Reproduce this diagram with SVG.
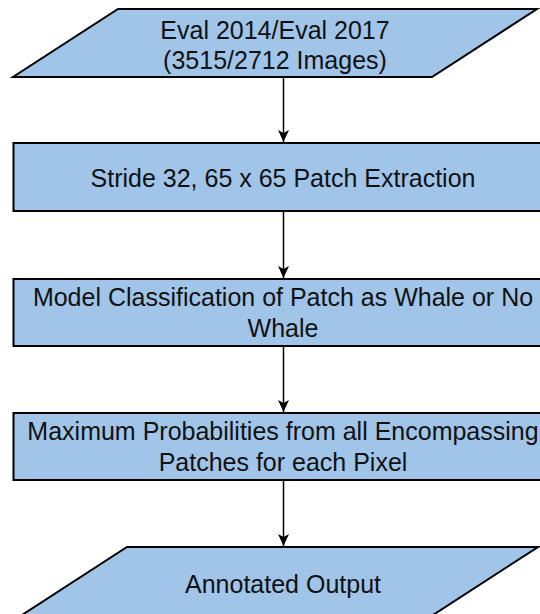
<svg xmlns="http://www.w3.org/2000/svg" width="540" height="614" viewBox="0 0 540 614">
<style>
.box{fill:#a0c5e9;stroke:#000;stroke-width:2}
.lbl{font-family:"Liberation Sans",Arial,sans-serif;font-size:25px;fill:#111;text-anchor:middle}
.edge{stroke:#000;stroke-width:1.5;fill:none}
</style>
<defs>
<marker id="arr" markerUnits="userSpaceOnUse" markerWidth="14" markerHeight="14" viewBox="0 0 14 14" refX="12" refY="7" orient="auto">
<path d="M0,1.5 L12,7 L0,12.5 L3,7 z" fill="#000"/>
</marker>
</defs>
<rect width="540" height="614" fill="#fff"/>
<g id="input">
<polygon class="box" points="118,9 537,9 432,77 13,77"/>
<text class="lbl" x="275" y="39">Eval 2014/Eval 2017</text>
<text class="lbl" x="275" y="69">(3515/2712 Images)</text>
</g>
<g id="extract">
<rect class="box" x="13.5" y="143" width="540" height="68"/>
<text class="lbl" x="283" y="187">Stride 32, 65 x 65 Patch Extraction</text>
</g>
<g id="classify">
<rect class="box" x="13.5" y="279" width="540" height="67"/>
<text class="lbl" x="283" y="306">Model Classification of Patch as Whale or No</text>
<text class="lbl" x="283" y="337">Whale</text>
</g>
<g id="maxprob">
<rect class="box" x="13.5" y="413" width="540" height="67"/>
<text class="lbl" x="283" y="440">Maximum Probabilities from all Encompassing</text>
<text class="lbl" x="283" y="471">Patches for each Pixel</text>
</g>
<g id="output">
<polygon class="box" points="127,547 538,547 433,615 22,615"/>
<text class="lbl" x="283" y="593">Annotated Output</text>
</g>
<g id="connectors">
<line class="edge" x1="283.5" y1="78" x2="283.5" y2="142" marker-end="url(#arr)"/>
<line class="edge" x1="283.5" y1="212" x2="283.5" y2="278" marker-end="url(#arr)"/>
<line class="edge" x1="283.5" y1="347" x2="283.5" y2="412" marker-end="url(#arr)"/>
<line class="edge" x1="283.5" y1="481" x2="283.5" y2="546" marker-end="url(#arr)"/>
</g>
</svg>
